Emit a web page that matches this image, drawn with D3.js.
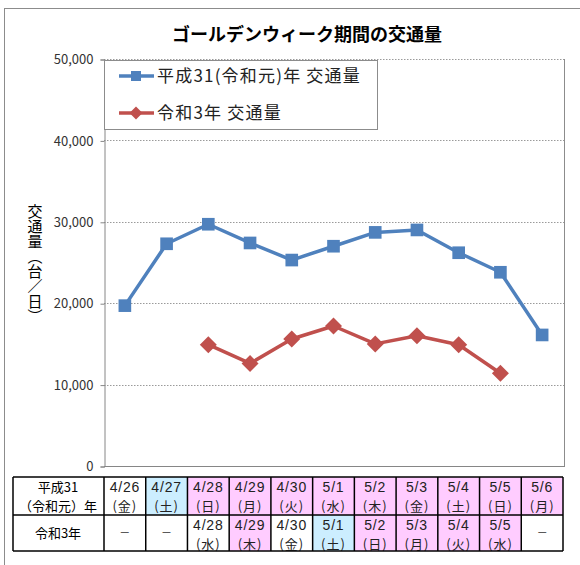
<!DOCTYPE html>
<html>
<head>
<meta charset="utf-8">
<script src="https://cdn.jsdelivr.net/npm/d3@7"></script>
<style>
  body { margin: 0; background: #fff; }
  svg { font-family: "Noto Sans CJK JP", "Noto Sans", sans-serif; }
</style>
</head>
<body>
<div id="chart"></div>
<script>
// data
const categories = ["4/26", "4/27", "4/28", "4/29", "4/30", "5/1", "5/2", "5/3", "5/4", "5/5", "5/6"];
const days2019 = ["金", "土", "日", "月", "火", "水", "木", "金", "土", "日", "月"];
const kind2019 = ["", "sat", "hol", "hol", "hol", "hol", "hol", "hol", "hol", "hol", "hol"];
const dates2021 = [null, null, "4/28", "4/29", "4/30", "5/1", "5/2", "5/3", "5/4", "5/5", null];
const days2021 = [null, null, "水", "木", "金", "土", "日", "月", "火", "水", null];
const kind2021 = ["", "", "", "hol", "", "sat", "hol", "hol", "hol", "hol", ""];
const traffic2019 = [19700, 27300, 29700, 27400, 25300, 27000, 28700, 29000, 26200, 23800, 16100];
const traffic2021 = [null, null, 14900, 12600, 15600, 17200, 15000, 16000, 14900, 11400, null];
const yTicks = [0, 10000, 20000, 30000, 40000, 50000];
const seriesNames = ["平成31(令和元)年 交通量", "令和3年 交通量"];

const W = 580, H = 565;
const pLeft = 104, pRight = 564, pTop = 59, pBottom = 466;
const blue = "#4f81bd", red = "#c0504d";
const cellColor = { "": "#ffffff", sat: "#cceeff", hol: "#ffccff" };

const svg = d3.select("#chart").append("svg")
  .attr("width", W)
  .attr("height", H);

// outer chart frame
svg.append("rect")
  .attr("x", 4.5).attr("y", 8.5)
  .attr("width", 700).attr("height", 700)
  .attr("fill", "none")
  .attr("stroke", "#8c8c8c");

const x = d3.scaleBand()
  .domain(categories)
  .range([pLeft, 563])
  .padding(0);

const y = d3.scaleLinear()
  .domain([0, 50000])
  .range([pBottom, pTop]);

// title
svg.append("text")
  .attr("x", 307)
  .attr("y", 41)
  .attr("text-anchor", "middle")
  .style("font-size", "18px")
  .style("font-weight", "bold")
  .text("ゴールデンウィーク期間の交通量");

// gridlines
svg.append("g")
  .selectAll("line")
  .data(yTicks.filter(d => d > 0))
  .enter()
  .append("line")
  .attr("x1", pLeft).attr("x2", pRight)
  .attr("y1", d => Math.round(y(d)) + 0.5)
  .attr("y2", d => Math.round(y(d)) + 0.5)
  .attr("stroke", "#9a9a9a")
  .attr("stroke-dasharray", "1.5,1.5");

// plot border (right side)
svg.append("line")
  .attr("x1", pRight + 0.5).attr("x2", pRight + 0.5)
  .attr("y1", pTop).attr("y2", pBottom)
  .attr("stroke", "#8c8c8c");

// x axis line
svg.append("line")
  .attr("x1", pLeft).attr("x2", pRight + 1)
  .attr("y1", pBottom + 0.5).attr("y2", pBottom + 0.5)
  .attr("stroke", "#868686");

// y axis
const yAxis = svg.append("g")
  .attr("transform", `translate(${pLeft + 0.5},0.5)`)
  .call(d3.axisLeft(y).tickValues(yTicks).tickFormat(d3.format(",")).tickSize(4).tickPadding(7));
yAxis.select(".domain").attr("stroke", "#868686");
yAxis.selectAll(".tick line").attr("stroke", "#868686");
yAxis.selectAll(".tick text")
  .style("font-size", "13px")
  .style("font-family", "'Noto Sans CJK JP', sans-serif")
  .attr("fill", "#333");

// y axis title (vertical)
svg.append("text")
  .attr("x", 35)
  .attr("y", 264)
  .attr("text-anchor", "middle")
  .style("writing-mode", "vertical-rl")
  .style("font-size", "15px")
  .text("交通量（台／日）");

const cx = (d, i) => x(categories[i]) + x.bandwidth() / 2;

// series lines
const line = d3.line()
  .defined(d => d != null)
  .x((d, i) => cx(d, i))
  .y(d => y(d));

svg.append("path")
  .datum(traffic2019)
  .attr("d", line)
  .attr("fill", "none")
  .attr("stroke", blue)
  .attr("stroke-width", 3.5)
  .attr("stroke-linejoin", "round");

svg.append("path")
  .datum(traffic2021)
  .attr("d", line)
  .attr("fill", "none")
  .attr("stroke", red)
  .attr("stroke-width", 3.5)
  .attr("stroke-linejoin", "round");

const square = d3.symbol().type(d3.symbolSquare).size(160);
const diamond = "M0,-8.5L8.5,0L0,8.5L-8.5,0Z";

svg.append("g")
  .selectAll("path")
  .data(traffic2019)
  .enter()
  .append("path")
  .attr("d", square)
  .attr("transform", (d, i) => `translate(${cx(d, i)},${y(d)})`)
  .attr("fill", blue);

svg.append("g")
  .selectAll("path")
  .data(traffic2021.map((v, i) => ({ v, i })).filter(d => d.v != null))
  .enter()
  .append("path")
  .attr("d", diamond)
  .attr("transform", d => `translate(${cx(d.v, d.i)},${y(d.v)})`)
  .attr("fill", red);

// legend
const legend = svg.append("g");
legend.append("rect")
  .attr("x", pLeft + 0.5).attr("y", 60.5)
  .attr("width", 273).attr("height", 69)
  .attr("fill", "#fff")
  .attr("stroke", "#8c8c8c");

const legendItems = [
  { name: seriesNames[0], color: blue, shape: "sq", yy: 76 },
  { name: seriesNames[1], color: red, shape: "di", yy: 113 }
];
legendItems.forEach(it => {
  legend.append("line")
    .attr("x1", 119).attr("x2", 154)
    .attr("y1", it.yy).attr("y2", it.yy)
    .attr("stroke", it.color)
    .attr("stroke-width", 3.5);
  legend.append("path")
    .attr("d", it.shape === "sq" ? d3.symbol().type(d3.symbolSquare).size(100)() : "M0,-6.5L6.5,0L0,6.5L-6.5,0Z")
    .attr("transform", `translate(136,${it.yy})`)
    .attr("fill", it.color);
  legend.append("text")
    .attr("x", 157)
    .attr("y", it.yy)
    .attr("dy", "0.36em")
    .style("font-size", "17px")
    .style("letter-spacing", "1.2px")
    .attr("fill", "#222")
    .text(it.name);
});

// table under the chart
const tTop = 477, tMid = 515, tBot = 551, tLeft = 13;
const table = svg.append("g");

const rows = [
  { y0: tTop, y1: tMid, dates: categories, days: days2019, kinds: kind2019 },
  { y0: tMid, y1: tBot, dates: dates2021, days: days2021, kinds: kind2021 }
];

rows.forEach(r => {
  const cells = table.append("g")
    .selectAll("g")
    .data(categories.map((c, i) => ({ c, i })))
    .enter()
    .append("g");
  cells.append("rect")
    .attr("x", d => x(d.c))
    .attr("y", r.y0)
    .attr("width", x.bandwidth())
    .attr("height", r.y1 - r.y0)
    .attr("fill", d => cellColor[r.kinds[d.i]]);
  cells.each(function (d) {
    const g = d3.select(this);
    const mx = x(d.c) + x.bandwidth() / 2;
    if (r.dates[d.i] == null) {
      g.append("text")
        .attr("x", mx)
        .attr("y", (r.y0 + r.y1) / 2)
        .attr("dy", "0.35em")
        .attr("text-anchor", "middle")
        .style("font-size", "11px")
        .attr("fill", "#333")
        .text("－");
    } else {
      g.append("text")
        .attr("x", mx)
        .attr("y", r.y0 + 15)
        .attr("text-anchor", "middle")
        .style("font-family", "'Liberation Sans', sans-serif")
        .style("font-size", "14px")
        .style("letter-spacing", "0.8px")
        .attr("fill", "#222")
        .text(r.dates[d.i]);
      g.append("text")
        .attr("x", mx)
        .attr("y", r.y0 + 33.5)
        .attr("text-anchor", "middle")
        .style("font-size", "13px")
        .style("letter-spacing", "1px")
        .attr("fill", "#222")
        .text("(" + r.days[d.i] + ")");
    }
  });
});

// row headers
table.append("text")
  .attr("x", 58).attr("y", tTop + 15)
  .attr("text-anchor", "middle")
  .style("font-size", "13px")
  .text("平成31");
table.append("text")
  .attr("x", 58).attr("y", tTop + 34)
  .attr("text-anchor", "middle")
  .style("font-size", "13px")
  .text("（令和元）年");
table.append("text")
  .attr("x", 58).attr("y", (tMid + tBot) / 2)
  .attr("dy", "0.35em")
  .attr("text-anchor", "middle")
  .style("font-size", "13px")
  .text("令和3年");

// table grid lines
const colEdges = [tLeft].concat(categories.map(c => x(c))).concat([x(categories[categories.length - 1]) + x.bandwidth()]);
table.selectAll("line.v")
  .data(colEdges)
  .enter()
  .append("line")
  .attr("x1", d => d).attr("x2", d => d)
  .attr("y1", tTop).attr("y2", tBot)
  .attr("stroke", "#000")
  .attr("stroke-width", 1.5);
table.selectAll("line.h")
  .data([tTop, tMid, tBot])
  .enter()
  .append("line")
  .attr("x1", tLeft).attr("x2", colEdges[colEdges.length - 1])
  .attr("y1", d => d).attr("y2", d => d)
  .attr("stroke", "#000")
  .attr("stroke-width", 1.5);
</script>
</body>
</html>
